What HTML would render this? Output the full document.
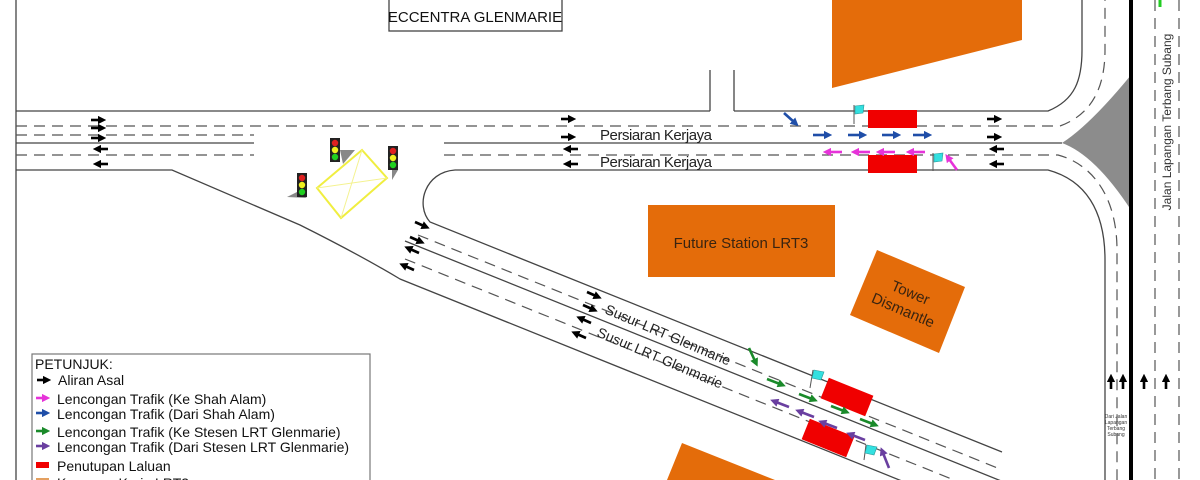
<!DOCTYPE html>
<html><head><meta charset="utf-8"><style>
html,body{margin:0;padding:0;background:#fff;width:1200px;height:480px;overflow:hidden;}
svg{display:block;font-family:"Liberation Sans",Arial,sans-serif;}
</style></head><body>
<svg width="1200" height="480" viewBox="0 0 1200 480" xmlns="http://www.w3.org/2000/svg">
<defs>
<marker id="mk" viewBox="0 0 4 4" refX="1" refY="2" markerWidth="3.2" markerHeight="3.2" orient="auto"><path d="M0,0 L4,2 L0,4 z" fill="#000"/></marker>
<marker id="mb" viewBox="0 0 4 4" refX="1" refY="2" markerWidth="3.2" markerHeight="3.2" orient="auto"><path d="M0,0 L4,2 L0,4 z" fill="#1f4ea8"/></marker>
<marker id="mm" viewBox="0 0 4 4" refX="1" refY="2" markerWidth="3.2" markerHeight="3.2" orient="auto"><path d="M0,0 L4,2 L0,4 z" fill="#e633d9"/></marker>
<marker id="mg" viewBox="0 0 4 4" refX="1" refY="2" markerWidth="3.2" markerHeight="3.2" orient="auto"><path d="M0,0 L4,2 L0,4 z" fill="#1a8a2a"/></marker>
<marker id="mp" viewBox="0 0 4 4" refX="1" refY="2" markerWidth="3.2" markerHeight="3.2" orient="auto"><path d="M0,0 L4,2 L0,4 z" fill="#6a3fa0"/></marker>
</defs>

<polygon points="832,0 1022,0 1022,40 832,88" fill="#e46c0a"/>
<rect x="648" y="205" width="187" height="72" fill="#e46c0a"/>
<polygon points="877,250 965,287 939,353 850,315" fill="#e46c0a"/>
<polygon points="682,443 775,480 667,480" fill="#e46c0a"/>
<text x="741" y="248" font-size="15" text-anchor="middle" fill="#3a2410">Future Station LRT3</text>
<g transform="rotate(23 907 301)" fill="#3a2410" font-size="15" text-anchor="middle">
<text x="907" y="297">Tower</text><text x="907" y="316">Dismantle</text></g>

<g fill="none" stroke="#444" stroke-width="1.3">
<line x1="16" y1="0" x2="16" y2="480"/>
<rect x="389" y="-2" width="173" height="33" fill="#fff"/>
<line x1="710" y1="70" x2="710" y2="111"/>
<line x1="734" y1="70" x2="734" y2="111"/>
<line x1="16" y1="111" x2="710" y2="111"/>
<path d="M734,111 L1048,111 C1075,100 1082,80 1082,50 L1082,0"/>
<line x1="16" y1="143" x2="254" y2="143"/>
<path d="M16,170 L172,170 L300,225 Q360,255 400,279 L1200,601"/>
<line x1="444" y1="143" x2="1062" y2="143"/>
<path d="M455,170 C425,172 415,205 430,222 L1002,452"/>
<path d="M455,170 L1048,170 C1085,180 1105,210 1105,260 L1105,480"/>
<line x1="405" y1="241" x2="1200" y2="561"/>
</g>
<g fill="none" stroke="#555" stroke-width="1.2" stroke-dasharray="11,7">
<path d="M16,126 L1060,126 C1090,115 1105,90 1105,50 L1105,0"/>
<line x1="16" y1="135" x2="254" y2="135"/>
<line x1="16" y1="155" x2="254" y2="155"/>
<path d="M444,155 L1058,155 C1095,165 1117,200 1117,250 L1117,480"/>
<line x1="418" y1="235" x2="1000" y2="469"/>
<line x1="405" y1="259" x2="1200" y2="579"/>
<line x1="1155" y1="0" x2="1155" y2="480"/>
<line x1="1179" y1="0" x2="1179" y2="480"/>
</g>
<path d="M1131,75 Q1090,125 1062,143 Q1095,155 1131,210 Z" fill="#8c8c8c"/>
<line x1="1131" y1="0" x2="1131" y2="480" stroke="#000" stroke-width="4"/>
<line x1="1160" y1="0" x2="1160" y2="7" stroke="#2c2" stroke-width="3"/>

<text x="475" y="22" font-size="15" text-anchor="middle" fill="#111">ECCENTRA GLENMARIE</text>
<text x="600" y="140" font-size="15" fill="#222" textLength="112">Persiaran Kerjaya</text>
<text x="600" y="167" font-size="15" fill="#222" textLength="112">Persiaran Kerjaya</text>
<text x="1171" y="122" font-size="12" fill="#333" text-anchor="middle" transform="rotate(-90 1171 122)">Jalan Lapangan Terbang Subang</text>
<g font-size="5" fill="#333" text-anchor="middle"><text x="1116" y="418">Dari Jalan</text><text x="1116" y="424">Lapangan</text><text x="1116" y="430">Terbang</text><text x="1116" y="436">Subang</text></g>
<g transform="rotate(23 604 313)" font-size="14" fill="#222"><text x="604" y="313">Susur LRT Glenmarie</text></g>
<g transform="rotate(23 596 336)" font-size="14" fill="#222"><text x="596" y="336">Susur LRT Glenmarie</text></g>

<rect x="868" y="110" width="49" height="18" fill="#f00000"/>
<rect x="868" y="155" width="49" height="18" fill="#f00000"/>
<rect x="823" y="386" width="48" height="22" fill="#f00000" transform="rotate(22 847 397)"/>
<rect x="804" y="427" width="48" height="22" fill="#f00000" transform="rotate(22 828 438)"/>
<g stroke="#555" stroke-width="1"><line x1="854" y1="105" x2="854" y2="124"/><line x1="933" y1="153" x2="933" y2="171"/><line x1="813" y1="370" x2="810" y2="388"/><line x1="866" y1="445" x2="864" y2="460"/></g>
<g fill="#33e0e0" stroke="#2a9a9a" stroke-width="0.6">
<path d="M855,106 L864,105 L863,113 L855,114 Z"/><path d="M934,154 L943,153 L942,161 L934,162 Z"/>
<path d="M814,370 L824,372 L821,380 L812,378 Z"/><path d="M867,445 L877,447 L874,455 L865,453 Z"/></g>

<g stroke="#000" stroke-width="2.6" marker-end="url(#mk)">
<line x1="91" y1="120" x2="100" y2="120"/><line x1="91" y1="128" x2="100" y2="128"/><line x1="91" y1="138" x2="100" y2="138"/>
<line x1="108" y1="149" x2="99" y2="149"/><line x1="108" y1="164" x2="99" y2="164"/>
<line x1="561" y1="119" x2="570" y2="119"/><line x1="561" y1="137" x2="570" y2="137"/>
<line x1="578" y1="149" x2="569" y2="149"/><line x1="578" y1="164" x2="569" y2="164"/>
<line x1="987" y1="119" x2="996" y2="119"/><line x1="987" y1="137" x2="996" y2="137"/>
<line x1="1004" y1="149" x2="995" y2="149"/><line x1="1004" y1="164" x2="995" y2="164"/>
<line x1="415" y1="222" x2="424" y2="226"/><line x1="410" y1="237" x2="419" y2="241"/>
<line x1="419" y1="253" x2="410" y2="249"/><line x1="414" y1="270" x2="405" y2="266"/>
<line x1="587" y1="292" x2="596" y2="296"/><line x1="583" y1="305" x2="592" y2="309"/>
<line x1="591" y1="323" x2="582" y2="319"/><line x1="586" y1="338" x2="577" y2="334"/>
<line x1="1111" y1="389" x2="1111" y2="380"/><line x1="1123" y1="389" x2="1123" y2="380"/>
<line x1="1144" y1="389" x2="1144" y2="380"/><line x1="1166" y1="389" x2="1166" y2="380"/>
</g>
<g stroke="#1f4ea8" stroke-width="2.6" marker-end="url(#mb)">
<line x1="784" y1="113" x2="794" y2="122"/>
<line x1="813" y1="135" x2="826" y2="135"/><line x1="848" y1="135" x2="861" y2="135"/><line x1="882" y1="135" x2="895" y2="135"/><line x1="913" y1="135" x2="926" y2="135"/>
</g>
<g stroke="#e633d9" stroke-width="2.6" marker-end="url(#mm)">
<line x1="957" y1="170" x2="949" y2="159"/>
<line x1="842" y1="152" x2="829" y2="152"/><line x1="870" y1="152" x2="857" y2="152"/><line x1="895" y1="152" x2="882" y2="152"/><line x1="925" y1="152" x2="912" y2="152"/>
</g>
<g stroke="#1a8a2a" stroke-width="2.6" marker-end="url(#mg)">
<line x1="749" y1="348" x2="755" y2="361"/>
<line x1="767" y1="379" x2="780" y2="384"/><line x1="799" y1="394" x2="812" y2="399"/><line x1="831" y1="406" x2="844" y2="411"/><line x1="860" y1="419" x2="873" y2="424"/>
</g>
<g stroke="#6a3fa0" stroke-width="2.6" marker-end="url(#mp)">
<line x1="889" y1="468" x2="883" y2="453"/>
<line x1="789" y1="407" x2="776" y2="402"/><line x1="814" y1="417" x2="801" y2="412"/><line x1="837" y1="428" x2="824" y2="423"/><line x1="865" y1="440" x2="852" y2="435"/>
</g>

<g stroke="#f0ee40" stroke-width="2" fill="none"><polygon points="317,188 362,150 387,178 341,218"/></g>
<g stroke="#f4f290" stroke-width="1"><line x1="317" y1="188" x2="387" y2="178"/><line x1="362" y1="150" x2="341" y2="218"/></g>
<g>
<polygon points="340,150 355,150 343,164" fill="#888"/>
<rect x="330" y="138" width="10" height="24" fill="#222"/>
<circle cx="335" cy="143" r="3.2" fill="#e02020"/><circle cx="335" cy="150" r="3.2" fill="#f0f020"/><circle cx="335" cy="157" r="3.2" fill="#20d020"/>
<polygon points="392,170 398,170 392,180" fill="#888"/>
<rect x="388" y="146" width="10" height="24" fill="#222"/>
<circle cx="393" cy="151" r="3.2" fill="#e02020"/><circle cx="393" cy="158" r="3.2" fill="#f0f020"/><circle cx="393" cy="165" r="3.2" fill="#20d020"/>
<polygon points="297,192 287,197 307,198" fill="#888"/>
<rect x="297" y="173" width="10" height="24" fill="#222"/>
<circle cx="302" cy="178" r="3.2" fill="#e02020"/><circle cx="302" cy="185" r="3.2" fill="#f0f020"/><circle cx="302" cy="192" r="3.2" fill="#20d020"/>
</g>

<rect x="32" y="354" width="338" height="130" fill="#fff" stroke="#777" stroke-width="1.2"/>
<g font-size="14" fill="#111">
<text x="35" y="369">PETUNJUK:</text>
<text x="58" y="385">Aliran Asal</text>
<text x="57" y="404">Lencongan Trafik (Ke Shah Alam)</text>
<text x="57" y="419">Lencongan Trafik (Dari Shah Alam)</text>
<text x="57" y="437">Lencongan Trafik (Ke Stesen LRT Glenmarie)</text>
<text x="57" y="452">Lencongan Trafik (Dari Stesen LRT Glenmarie)</text>
<text x="57" y="471">Penutupan Laluan</text>
<text x="57" y="488">Kawasan Kerja LRT3</text>
</g>
<line x1="37" y1="380" x2="45" y2="380" stroke="#000" stroke-width="2.6" marker-end="url(#mk)"/>
<line x1="36" y1="398" x2="44" y2="398" stroke="#e633d9" stroke-width="2.6" marker-end="url(#mm)"/>
<line x1="36" y1="413" x2="44" y2="413" stroke="#1f4ea8" stroke-width="2.6" marker-end="url(#mb)"/>
<line x1="36" y1="431" x2="44" y2="431" stroke="#1a8a2a" stroke-width="2.6" marker-end="url(#mg)"/>
<line x1="36" y1="446" x2="44" y2="446" stroke="#6a3fa0" stroke-width="2.6" marker-end="url(#mp)"/>
<rect x="36" y="462" width="13" height="6" fill="#f00000"/>
<rect x="36" y="478" width="13" height="6" fill="#e4a060"/>
</svg>
</body></html>
